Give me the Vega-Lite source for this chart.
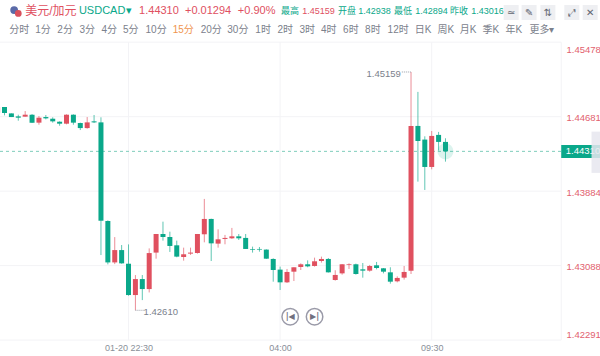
{"$schema":"https://vega.github.io/schema/vega-lite/v6.json","autosize":"none","padding":0,"width":600,"height":356,"background":"#ffffff","config":{"view":{"stroke":null},"font":"Liberation Sans, Noto Sans CJK SC","scale":{"continuousPadding":0}},
"datasets":{
"candles":[
{"t":"2025-01-20T17:45:00Z","hi":1.44790,"lo":1.44724,"top":1.44781,"bot":1.44724,"dir":"up"},
{"t":"2025-01-20T18:00:00Z","hi":1.44784,"lo":1.44695,"top":1.44784,"bot":1.44720,"dir":"down"},
{"t":"2025-01-20T18:15:00Z","hi":1.44716,"lo":1.44677,"top":1.44716,"bot":1.44677,"dir":"down"},
{"t":"2025-01-20T18:30:00Z","hi":1.44702,"lo":1.44638,"top":1.44684,"bot":1.44670,"dir":"down"},
{"t":"2025-01-20T18:45:00Z","hi":1.44741,"lo":1.44681,"top":1.44702,"bot":1.44681,"dir":"up"},
{"t":"2025-01-20T19:00:00Z","hi":1.44709,"lo":1.44613,"top":1.44702,"bot":1.44617,"dir":"down"},
{"t":"2025-01-20T19:15:00Z","hi":1.44688,"lo":1.44595,"top":1.44670,"bot":1.44617,"dir":"up"},
{"t":"2025-01-20T19:30:00Z","hi":1.44699,"lo":1.44652,"top":1.44677,"bot":1.44663,"dir":"down"},
{"t":"2025-01-20T19:45:00Z","hi":1.44674,"lo":1.44617,"top":1.44659,"bot":1.44631,"dir":"down"},
{"t":"2025-01-20T20:00:00Z","hi":1.44631,"lo":1.44584,"top":1.44627,"bot":1.44606,"dir":"down"},
{"t":"2025-01-20T20:15:00Z","hi":1.44706,"lo":1.44599,"top":1.44702,"bot":1.44606,"dir":"up"},
{"t":"2025-01-20T20:30:00Z","hi":1.44706,"lo":1.44595,"top":1.44702,"bot":1.44617,"dir":"down"},
{"t":"2025-01-20T20:45:00Z","hi":1.44617,"lo":1.44538,"top":1.44613,"bot":1.44559,"dir":"down"},
{"t":"2025-01-20T21:00:00Z","hi":1.44677,"lo":1.44552,"top":1.44620,"bot":1.44559,"dir":"up"},
{"t":"2025-01-20T21:15:00Z","hi":1.44699,"lo":1.44613,"top":1.44631,"bot":1.44620,"dir":"down"},
{"t":"2025-01-20T21:30:00Z","hi":1.44674,"lo":1.43201,"top":1.44620,"bot":1.43568,"dir":"down"},
{"t":"2025-01-20T21:45:00Z","hi":1.43572,"lo":1.43101,"top":1.43565,"bot":1.43122,"dir":"down"},
{"t":"2025-01-20T22:00:00Z","hi":1.43393,"lo":1.43104,"top":1.43254,"bot":1.43122,"dir":"up"},
{"t":"2025-01-20T22:15:00Z","hi":1.43308,"lo":1.43108,"top":1.43254,"bot":1.43112,"dir":"down"},
{"t":"2025-01-20T22:30:00Z","hi":1.43315,"lo":1.42766,"top":1.43108,"bot":1.42773,"dir":"down"},
{"t":"2025-01-20T22:45:00Z","hi":1.42987,"lo":1.42610,"top":1.42944,"bot":1.42773,"dir":"up"},
{"t":"2025-01-20T23:00:00Z","hi":1.42987,"lo":1.42719,"top":1.42944,"bot":1.42837,"dir":"down"},
{"t":"2025-01-20T23:15:00Z","hi":1.43272,"lo":1.42801,"top":1.43222,"bot":1.42837,"dir":"up"},
{"t":"2025-01-20T23:30:00Z","hi":1.43426,"lo":1.43162,"top":1.43426,"bot":1.43227,"dir":"up"},
{"t":"2025-01-20T23:45:00Z","hi":1.43558,"lo":1.43355,"top":1.43426,"bot":1.43394,"dir":"down"},
{"t":"2025-01-21T00:00:00Z","hi":1.43451,"lo":1.43234,"top":1.43394,"bot":1.43298,"dir":"down"},
{"t":"2025-01-21T00:15:00Z","hi":1.43355,"lo":1.43177,"top":1.43305,"bot":1.43184,"dir":"down"},
{"t":"2025-01-21T00:30:00Z","hi":1.43280,"lo":1.43141,"top":1.43209,"bot":1.43180,"dir":"up"},
{"t":"2025-01-21T00:45:00Z","hi":1.43280,"lo":1.43202,"top":1.43227,"bot":1.43216,"dir":"up"},
{"t":"2025-01-21T01:00:00Z","hi":1.43426,"lo":1.43216,"top":1.43426,"bot":1.43223,"dir":"up"},
{"t":"2025-01-21T01:15:00Z","hi":1.43801,"lo":1.43337,"top":1.43587,"bot":1.43423,"dir":"up"},
{"t":"2025-01-21T01:30:00Z","hi":1.43590,"lo":1.43137,"top":1.43587,"bot":1.43326,"dir":"down"},
{"t":"2025-01-21T01:45:00Z","hi":1.43476,"lo":1.43280,"top":1.43369,"bot":1.43323,"dir":"up"},
{"t":"2025-01-21T02:00:00Z","hi":1.43416,"lo":1.43316,"top":1.43384,"bot":1.43373,"dir":"up"},
{"t":"2025-01-21T02:15:00Z","hi":1.43491,"lo":1.43373,"top":1.43401,"bot":1.43380,"dir":"up"},
{"t":"2025-01-21T02:30:00Z","hi":1.43426,"lo":1.43362,"top":1.43401,"bot":1.43380,"dir":"down"},
{"t":"2025-01-21T02:45:00Z","hi":1.43426,"lo":1.43266,"top":1.43384,"bot":1.43266,"dir":"down"},
{"t":"2025-01-21T03:00:00Z","hi":1.43291,"lo":1.43227,"top":1.43262,"bot":1.43255,"dir":"down"},
{"t":"2025-01-21T03:15:00Z","hi":1.43287,"lo":1.43237,"top":1.43266,"bot":1.43259,"dir":"down"},
{"t":"2025-01-21T03:30:00Z","hi":1.43262,"lo":1.43159,"top":1.43259,"bot":1.43162,"dir":"down"},
{"t":"2025-01-21T03:45:00Z","hi":1.43166,"lo":1.42916,"top":1.43159,"bot":1.43041,"dir":"down"},
{"t":"2025-01-21T04:00:00Z","hi":1.43077,"lo":1.42827,"top":1.43045,"bot":1.42909,"dir":"down"},
{"t":"2025-01-21T04:15:00Z","hi":1.43052,"lo":1.42902,"top":1.43020,"bot":1.42909,"dir":"up"},
{"t":"2025-01-21T04:30:00Z","hi":1.43070,"lo":1.42923,"top":1.43070,"bot":1.43023,"dir":"up"},
{"t":"2025-01-21T04:45:00Z","hi":1.43112,"lo":1.43041,"top":1.43102,"bot":1.43073,"dir":"up"},
{"t":"2025-01-21T05:00:00Z","hi":1.43144,"lo":1.43070,"top":1.43102,"bot":1.43080,"dir":"down"},
{"t":"2025-01-21T05:15:00Z","hi":1.43173,"lo":1.43077,"top":1.43134,"bot":1.43084,"dir":"up"},
{"t":"2025-01-21T05:30:00Z","hi":1.43184,"lo":1.43120,"top":1.43159,"bot":1.43137,"dir":"up"},
{"t":"2025-01-21T05:45:00Z","hi":1.43169,"lo":1.43013,"top":1.43159,"bot":1.43016,"dir":"down"},
{"t":"2025-01-21T06:00:00Z","hi":1.43038,"lo":1.42927,"top":1.42988,"bot":1.42934,"dir":"up"},
{"t":"2025-01-21T06:15:00Z","hi":1.43105,"lo":1.42991,"top":1.43102,"bot":1.43005,"dir":"up"},
{"t":"2025-01-21T06:30:00Z","hi":1.43112,"lo":1.43052,"top":1.43105,"bot":1.43098,"dir":"up"},
{"t":"2025-01-21T06:45:00Z","hi":1.43109,"lo":1.42991,"top":1.43102,"bot":1.42998,"dir":"down"},
{"t":"2025-01-21T07:00:00Z","hi":1.43116,"lo":1.42959,"top":1.43048,"bot":1.43034,"dir":"down"},
{"t":"2025-01-21T07:15:00Z","hi":1.43095,"lo":1.43023,"top":1.43084,"bot":1.43034,"dir":"up"},
{"t":"2025-01-21T07:30:00Z","hi":1.43127,"lo":1.43048,"top":1.43091,"bot":1.43062,"dir":"down"},
{"t":"2025-01-21T07:45:00Z","hi":1.43062,"lo":1.43005,"top":1.43059,"bot":1.43023,"dir":"down"},
{"t":"2025-01-21T08:00:00Z","hi":1.43070,"lo":1.42895,"top":1.43016,"bot":1.42916,"dir":"down"},
{"t":"2025-01-21T08:15:00Z","hi":1.42973,"lo":1.42909,"top":1.42956,"bot":1.42920,"dir":"up"},
{"t":"2025-01-21T08:30:00Z","hi":1.43084,"lo":1.42938,"top":1.43020,"bot":1.42959,"dir":"up"},
{"t":"2025-01-21T08:45:00Z","hi":1.45159,"lo":1.42998,"top":1.44582,"bot":1.43034,"dir":"up"},
{"t":"2025-01-21T09:00:00Z","hi":1.44946,"lo":1.43986,"top":1.44582,"bot":1.44421,"dir":"down"},
{"t":"2025-01-21T09:15:00Z","hi":1.44471,"lo":1.43897,"top":1.44436,"bot":1.44143,"dir":"down"},
{"t":"2025-01-21T09:30:00Z","hi":1.44528,"lo":1.44118,"top":1.44475,"bot":1.44143,"dir":"up"},
{"t":"2025-01-21T09:45:00Z","hi":1.44518,"lo":1.44318,"top":1.44486,"bot":1.44411,"dir":"down"},
{"t":"2025-01-21T10:00:00Z","hi":1.44450,"lo":1.44200,"top":1.44411,"bot":1.44310,"dir":"down"}
],
"hgrid":[{"p":1.45478},{"p":1.44681},{"p":1.43884},{"p":1.43088},{"p":1.42291}],
"vgrid":[{"t":"2025-01-20T22:30:00Z"},{"t":"2025-01-21T04:00:00Z"},{"t":"2025-01-21T09:30:00Z"},{"t":"2025-01-21T14:12:00Z"}],
"row2":[
{"t":"2025-01-20T18:32:00Z","label":"分时"},{"t":"2025-01-20T19:24:00Z","label":"1分"},{"t":"2025-01-20T20:12:00Z","label":"2分"},{"t":"2025-01-20T21:00:00Z","label":"3分"},{"t":"2025-01-20T21:48:00Z","label":"4分"},{"t":"2025-01-20T22:35:00Z","label":"5分"},{"t":"2025-01-20T23:30:00Z","label":"10分"},{"t":"2025-01-21T00:29:00Z","label":"15分"},{"t":"2025-01-21T01:30:00Z","label":"20分"},{"t":"2025-01-21T02:28:00Z","label":"30分"},{"t":"2025-01-21T03:23:00Z","label":"1时"},{"t":"2025-01-21T04:11:00Z","label":"2时"},{"t":"2025-01-21T04:59:00Z","label":"3时"},{"t":"2025-01-21T05:46:00Z","label":"4时"},{"t":"2025-01-21T06:34:00Z","label":"6时"},{"t":"2025-01-21T07:22:00Z","label":"8时"},{"t":"2025-01-21T08:17:00Z","label":"12时"},{"t":"2025-01-21T09:11:00Z","label":"日K"},{"t":"2025-01-21T10:01:00Z","label":"周K"},{"t":"2025-01-21T10:49:00Z","label":"月K"},{"t":"2025-01-21T11:39:00Z","label":"季K"},{"t":"2025-01-21T12:29:00Z","label":"年K"},{"t":"2025-01-21T13:30:00Z","label":"更多▾"}],
"row1big":[
{"t":"2025-01-20T18:45:00Z","label":"美元/加元","kind":"name"},{"t":"2025-01-20T20:42:00Z","label":"USDCAD","kind":"muted"},{"t":"2025-01-20T22:25:00Z","label":"▾","kind":"muted"},{"t":"2025-01-20T22:53:00Z","label":"1.44310","kind":"up"},{"t":"2025-01-21T00:33:00Z","label":"+0.01294","kind":"up"},{"t":"2025-01-21T02:28:00Z","label":"+0.90%","kind":"up"}],
"row1small":[
{"t":"2025-01-21T04:02:00Z","label":"最高","kind":"muted"},{"t":"2025-01-21T04:48:00Z","label":"1.45159","kind":"up"},{"t":"2025-01-21T06:06:00Z","label":"开盘","kind":"muted"},{"t":"2025-01-21T06:50:00Z","label":"1.42938","kind":"down"},{"t":"2025-01-21T08:08:00Z","label":"最低","kind":"muted"},{"t":"2025-01-21T08:54:00Z","label":"1.42894","kind":"down"},{"t":"2025-01-21T10:10:00Z","label":"昨收","kind":"muted"},{"t":"2025-01-21T10:56:00Z","label":"1.43016","kind":"muted"}],
"icons":[{"t":"2025-01-21T12:23:00Z","label":"≃"},{"t":"2025-01-21T13:02:00Z","label":"✎"},{"t":"2025-01-21T13:43:00Z","label":"⇅"},{"t":"2025-01-21T14:35:00Z","label":"⤢"},{"t":"2025-01-21T15:15:00Z","label":"✕"}],
"replay":[{"t":"2025-01-21T04:22:00Z","label":"|◀"},{"t":"2025-01-21T05:15:00Z","label":"▶|"}]
},
"layer":[
{"data":{"name":"hgrid"},"mark":{"type":"rule","color":"#f3f3f6","strokeWidth":1},"encoding":{
"x":{"datum":1737395412000,"type":"temporal","scale":{"type":"utc","domain":[1737395412000,1737473784000]},"axis":{"values":[{"year":2025,"month":1,"date":20,"hours":22,"minutes":30,"utc":true},{"year":2025,"month":1,"date":21,"hours":4,"minutes":0,"utc":true},{"year":2025,"month":1,"date":21,"hours":9,"minutes":30,"utc":true}],"title":null,"grid":false,"domain":false,"ticks":false,"offset":-15,"labelPadding":2,"labelFontSize":9,"labelColor":"#8a8f99","labelExpr":"utcFormat(datum.value,'%H:%M')=='22:30'?'01-20 22:30':utcFormat(datum.value,'%H:%M')"}},
"x2":{"datum":1737468720000},
"y":{"field":"p","type":"quantitative","scale":{"domain":[1.42121,1.45929],"nice":false,"zero":false},"axis":{"orient":"right","values":[1.45478,1.44681,1.43884,1.43088,1.42291],"format":".5f","title":null,"grid":false,"domain":false,"ticks":false,"offset":-39,"labelPadding":5,"labelFontSize":9.5,"labelColor":"#e2616e","labelOffset":{"condition":[{"test":"datum.value>1.45","value":7},{"test":"datum.value<1.423","value":-6}],"value":1}}}}},
{"data":{"name":"vgrid"},"mark":{"type":"rule","color":"#f3f3f6","strokeWidth":1},"encoding":{"x":{"field":"t","type":"temporal","scale":{"type":"utc","domain":[1737395412000,1737473784000]}},"y":{"datum":1.45478,"type":"quantitative","scale":{"domain":[1.42121,1.45929],"nice":false,"zero":false}},"y2":{"datum":1.42291}}},
{"data":{"values":[{"label":"1.44310"}]},"mark":{"type":"rule","color":"#7fcdbb","strokeWidth":1,"strokeDash":[3,3]},"encoding":{"x":{"datum":1737395412000,"type":"temporal","scale":{"type":"utc","domain":[1737395412000,1737473784000]}},"x2":{"datum":1737468720000},"y":{"datum":1.4431,"type":"quantitative","scale":{"domain":[1.42121,1.45929],"nice":false,"zero":false}}}},
{"data":{"values":[{"t":"2025-01-21T10:00:00Z","p":1.4431}]},"mark":{"type":"point","filled":true,"color":"#0aa88a","opacity":0.14,"size":260},"encoding":{"x":{"field":"t","type":"temporal","scale":{"type":"utc","domain":[1737395412000,1737473784000]}},"y":{"field":"p","type":"quantitative","scale":{"domain":[1.42121,1.45929],"nice":false,"zero":false}}}},
{"data":{"name":"candles"},"mark":{"type":"rule","strokeWidth":1,"opacity":0.65},"encoding":{"x":{"field":"t","type":"temporal","scale":{"type":"utc","domain":[1737395412000,1737473784000]}},"y":{"field":"hi","type":"quantitative","scale":{"domain":[1.42121,1.45929],"nice":false,"zero":false}},"y2":{"field":"lo"},"color":{"field":"dir","type":"nominal","legend":null,"scale":{"domain":["up","down"],"range":["#e0505f","#0aa88a"]}}}},
{"data":{"name":"candles"},"mark":{"type":"bar","size":5},"encoding":{"x":{"field":"t","type":"temporal","scale":{"type":"utc","domain":[1737395412000,1737473784000]}},"y":{"field":"top","type":"quantitative","scale":{"domain":[1.42121,1.45929],"nice":false,"zero":false}},"y2":{"field":"bot"},"color":{"field":"dir","type":"nominal","legend":null,"scale":{"domain":["up","down"],"range":["#e0505f","#0aa88a"]}}}},
{"data":{"values":[{"t":"2025-01-21T08:25:00Z","t2":"2025-01-21T08:45:00Z","p":1.45159},{"t":"2025-01-20T22:45:00Z","t2":"2025-01-20T23:05:00Z","p":1.4261}]},"mark":{"type":"rule","color":"#9a9fa8","strokeWidth":1,"strokeDash":[1,1]},"encoding":{"x":{"field":"t","type":"temporal","scale":{"type":"utc","domain":[1737395412000,1737473784000]}},"x2":{"field":"t2"},"y":{"field":"p","type":"quantitative","scale":{"domain":[1.42121,1.45929],"nice":false,"zero":false}}}},
{"data":{"values":[{"t":"2025-01-21T08:25:00Z","p":1.45159,"label":"1.45159"}]},"mark":{"type":"text","align":"right","baseline":"middle","fontSize":9.5,"dx":-1,"dy":2,"color":"#7b818c"},"encoding":{"x":{"field":"t","type":"temporal","scale":{"type":"utc","domain":[1737395412000,1737473784000]}},"y":{"field":"p","type":"quantitative","scale":{"domain":[1.42121,1.45929],"nice":false,"zero":false}},"text":{"field":"label"}}},
{"data":{"values":[{"t":"2025-01-20T23:05:00Z","p":1.4261,"label":"1.42610"}]},"mark":{"type":"text","align":"left","baseline":"middle","fontSize":9.5,"dx":-1,"dy":2,"color":"#7b818c"},"encoding":{"x":{"field":"t","type":"temporal","scale":{"type":"utc","domain":[1737395412000,1737473784000]}},"y":{"field":"p","type":"quantitative","scale":{"domain":[1.42121,1.45929],"nice":false,"zero":false}},"text":{"field":"label"}}},
{"data":{"values":[{"t":"2025-01-21T14:12:00Z","t2":"2025-01-21T15:37:00Z","p":1.44378,"p2":1.44239}]},"mark":{"type":"rect","color":"#0aa88a"},"encoding":{"x":{"field":"t","type":"temporal","scale":{"type":"utc","domain":[1737395412000,1737473784000]}},"x2":{"field":"t2"},"y":{"field":"p","type":"quantitative","scale":{"domain":[1.42121,1.45929],"nice":false,"zero":false}},"y2":{"field":"p2"}}},
{"data":{"values":[{"t":"2025-01-21T14:22:00Z","p":1.4431,"label":"1.44310"}]},"mark":{"type":"text","align":"left","baseline":"middle","fontSize":9.5,"color":"#ffffff"},"encoding":{"x":{"field":"t","type":"temporal","scale":{"type":"utc","domain":[1737395412000,1737473784000]}},"y":{"field":"p","type":"quantitative","scale":{"domain":[1.42121,1.45929],"nice":false,"zero":false}},"text":{"field":"label"}}},
{"data":{"values":[{"t":"2025-01-21T15:18:00Z","t2":"2025-01-21T15:40:00Z","p":1.44521,"p2":1.44079}]},"mark":{"type":"rect","color":"#e6e6ee","opacity":0.85},"encoding":{"x":{"field":"t","type":"temporal","scale":{"type":"utc","domain":[1737395412000,1737473784000]}},"x2":{"field":"t2"},"y":{"field":"p","type":"quantitative","scale":{"domain":[1.42121,1.45929],"nice":false,"zero":false}},"y2":{"field":"p2"}}},
{"data":{"name":"replay"},"mark":{"type":"point","shape":"circle","filled":false,"fill":"#ffffff","fillOpacity":1,"stroke":"#9a9aa8","strokeWidth":1.5,"size":272,"opacity":1},"encoding":{"x":{"field":"t","type":"temporal","scale":{"type":"utc","domain":[1737395412000,1737473784000]}},"y":{"datum":1.42541,"type":"quantitative","scale":{"domain":[1.42121,1.45929],"nice":false,"zero":false}}}},
{"data":{"name":"replay"},"mark":{"type":"text","fontSize":8,"fontWeight":"bold","baseline":"middle","align":"center","color":"#70707e","font":"DejaVu Sans"},"encoding":{"x":{"field":"t","type":"temporal","scale":{"type":"utc","domain":[1737395412000,1737473784000]}},"y":{"datum":1.42541,"type":"quantitative","scale":{"domain":[1.42121,1.45929],"nice":false,"zero":false}},"text":{"field":"label"}}},
{"data":{"name":"row2"},"mark":{"type":"text","fontSize":10,"baseline":"middle","align":"center"},"encoding":{"x":{"field":"t","type":"temporal","scale":{"type":"utc","domain":[1737395412000,1737473784000]}},"y":{"datum":1.45609,"type":"quantitative","scale":{"domain":[1.42121,1.45929],"nice":false,"zero":false}},"text":{"field":"label"},"color":{"condition":{"test":"datum.label=='15分'","value":"#f0954f"},"value":"#7b818c"}}},
{"data":{"name":"row1big"},"mark":{"type":"text","baseline":"middle","align":"left"},"encoding":{"x":{"field":"t","type":"temporal","scale":{"type":"utc","domain":[1737395412000,1737473784000]}},"y":{"datum":1.45812,"type":"quantitative","scale":{"domain":[1.42121,1.45929],"nice":false,"zero":false}},"text":{"field":"label"},"size":{"condition":{"test":"datum.kind=='name'","value":12},"value":11},"color":{"field":"kind","type":"nominal","legend":null,"scale":{"domain":["name","muted","up","down"],"range":["#3f4450","#7b818c","#e0505f","#0aa88a"]}}}},
{"data":{"name":"row1small"},"mark":{"type":"text","fontSize":9,"baseline":"middle","align":"left"},"encoding":{"x":{"field":"t","type":"temporal","scale":{"type":"utc","domain":[1737395412000,1737473784000]}},"y":{"datum":1.45812,"type":"quantitative","scale":{"domain":[1.42121,1.45929],"nice":false,"zero":false}},"text":{"field":"label"},"color":{"field":"kind","type":"nominal","legend":null,"scale":{"domain":["name","muted","up","down"],"range":["#3f4450","#7b818c","#e0505f","#0aa88a"]}}}},
{"data":{"name":"icons"},"mark":{"type":"point","shape":"square","filled":true,"color":"#eeeff2","size":225,"opacity":1},"encoding":{"x":{"field":"t","type":"temporal","scale":{"type":"utc","domain":[1737395412000,1737473784000]}},"y":{"datum":1.45795,"type":"quantitative","scale":{"domain":[1.42121,1.45929],"nice":false,"zero":false}}}},
{"data":{"name":"icons"},"mark":{"type":"text","fontSize":10,"baseline":"middle","align":"center","color":"#5f6470","font":"DejaVu Sans"},"encoding":{"x":{"field":"t","type":"temporal","scale":{"type":"utc","domain":[1737395412000,1737473784000]}},"y":{"datum":1.45795,"type":"quantitative","scale":{"domain":[1.42121,1.45929],"nice":false,"zero":false}},"text":{"field":"label"}}},
{"data":{"values":[{"t":"2025-01-20T18:21:00Z","p":1.45822}]},"mark":{"type":"point","filled":true,"color":"#5a6aa8","size":60,"opacity":1},"encoding":{"x":{"field":"t","type":"temporal","scale":{"type":"utc","domain":[1737395412000,1737473784000]}},"y":{"field":"p","type":"quantitative","scale":{"domain":[1.42121,1.45929],"nice":false,"zero":false}}}},
{"data":{"values":[{"t":"2025-01-20T18:30:00Z","p":1.45785}]},"mark":{"type":"point","filled":true,"color":"#d9505c","size":45,"opacity":1},"encoding":{"x":{"field":"t","type":"temporal","scale":{"type":"utc","domain":[1737395412000,1737473784000]}},"y":{"field":"p","type":"quantitative","scale":{"domain":[1.42121,1.45929],"nice":false,"zero":false}}}}
]}
